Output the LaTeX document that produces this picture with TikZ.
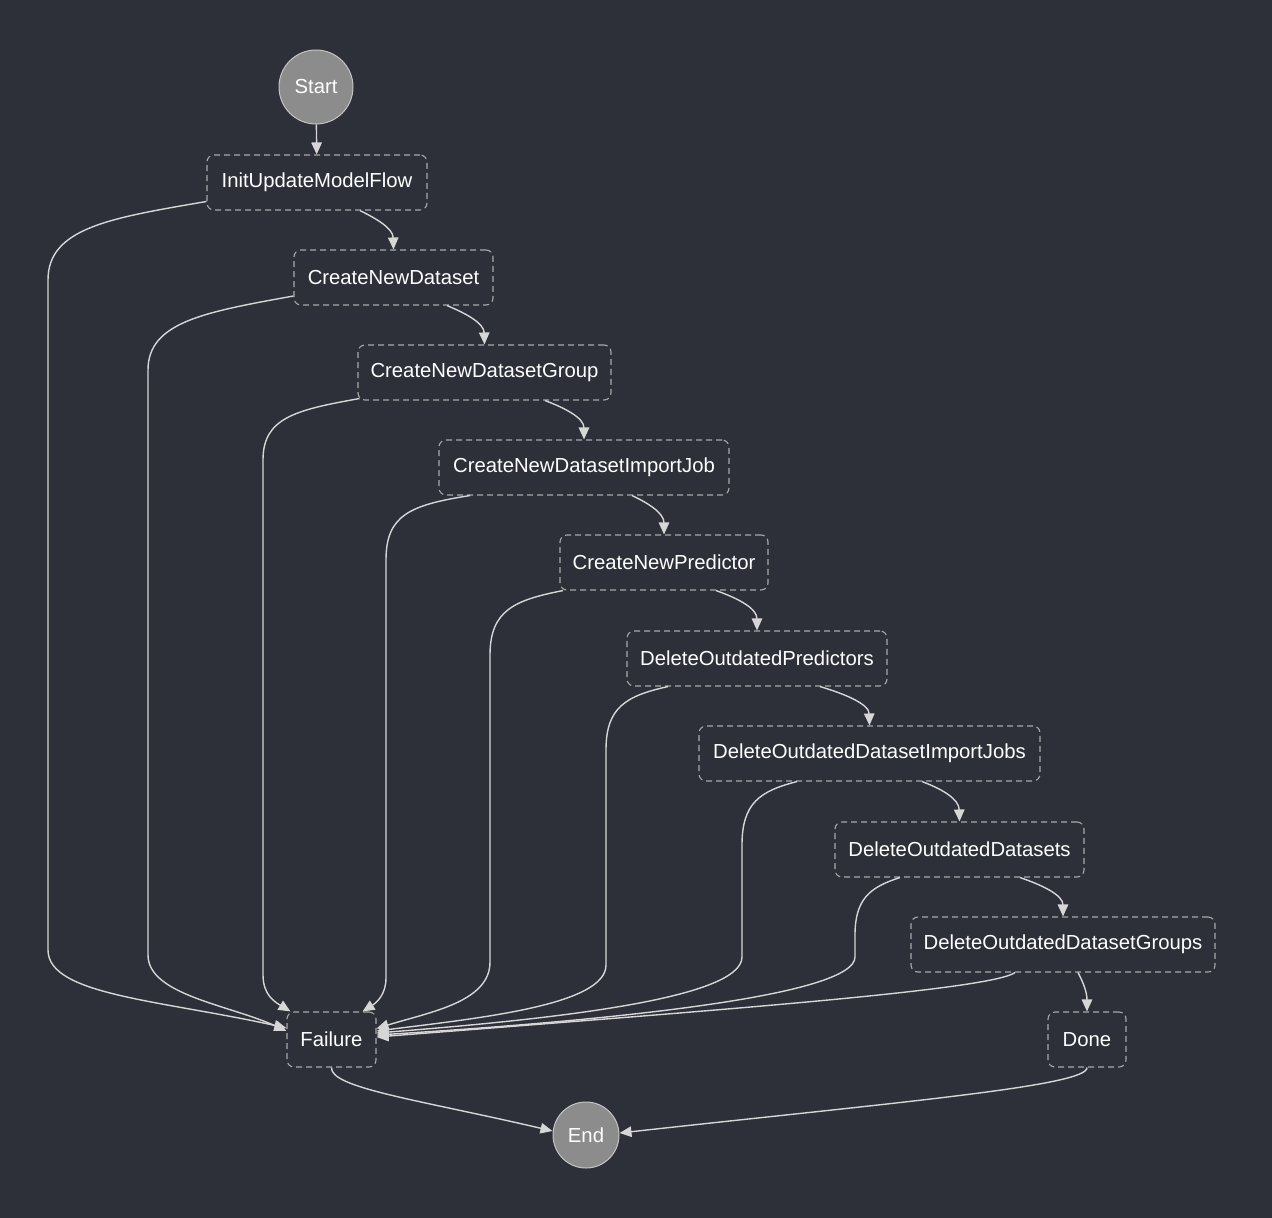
\documentclass[tikz,border=0pt]{standalone}
\usepackage{fontspec}
\setmainfont{Liberation Sans}
\usetikzlibrary{arrows.meta,calc}
\definecolor{bg}{HTML}{2D3039}
\definecolor{wire}{HTML}{D6D6D6}
\definecolor{frame}{HTML}{A8A8A8}
\definecolor{disc}{HTML}{8C8C8C}
\definecolor{discrim}{HTML}{C4C4C4}
\begin{document}
\begin{tikzpicture}[x=1pt,y=-1pt,
  state/.style={draw=frame,dash pattern=on 6pt off 4pt,line width=1.1pt,rounded corners=7pt,
    minimum height=55pt,text=white,font=\fontsize{20.3}{23}\selectfont,inner sep=0pt},
  terminal/.style={circle,fill=disc,draw=discrim,line width=1pt,text=white,
    font=\fontsize{20.3}{23}\selectfont,inner sep=0pt},
  edge/.style={draw=wire,line width=1.4pt,-{Triangle[length=12pt,width=10.5pt]}}]
\fill[bg] (0,0) rectangle (1272,1218);

% states
\node[terminal,minimum size=74pt] (start) at (316,87) {Start};
\node[state,minimum width=220pt] (init) at (317,182.5) {InitUpdateModelFlow};
\node[state,minimum width=199pt] (ds) at (393.5,277.5) {CreateNewDataset};
\node[state,minimum width=253pt] (grp) at (484.5,372.5) {CreateNewDatasetGroup};
\node[state,minimum width=290pt] (imp) at (584,467.5) {CreateNewDatasetImportJob};
\node[state,minimum width=208pt] (pred) at (664,562.5) {CreateNewPredictor};
\node[state,minimum width=260pt] (dp) at (757,658.5) {DeleteOutdatedPredictors};
\node[state,minimum width=341pt] (dij) at (869.5,753.5) {DeleteOutdatedDatasetImportJobs};
\node[state,minimum width=249pt] (dd) at (959.5,849.5) {DeleteOutdatedDatasets};
\node[state,minimum width=304pt] (dg) at (1063,944.5) {DeleteOutdatedDatasetGroups};
\node[state,minimum width=89pt] (fail) at (331.5,1039.5) {Failure};
\node[state,minimum width=78pt] (done) at (1087,1039.5) {Done};
\node[terminal,minimum size=66pt] (end) at (586,1135) {End};

% main chain
\draw[edge] (start) -- (init);
\draw[edge] ($(init.south)+(43,0)$) .. controls (375,218) and (393,228) .. (ds.north);
\draw[edge] ($(ds.south)+(53.5,0)$) .. controls (465,313) and (484,323) .. (grp.north);
\draw[edge] ($(grp.south)+(60.5,0)$) .. controls (565,408) and (584,418) .. (imp.north);
\draw[edge] ($(imp.south)+(48,0)$) .. controls (648,503) and (664,513) .. (pred.north);
\draw[edge] ($(pred.south)+(52,0)$) .. controls (737,598) and (757,608) .. (dp.north);
\draw[edge] ($(dp.south)+(63,0)$) .. controls (845,694) and (869,704) .. (dij.north);
\draw[edge] ($(dij.south)+(52.5,0)$) .. controls (942,789) and (959,799) .. (dd.north);
\draw[edge] ($(dd.south)+(60.5,0)$) .. controls (1042,885) and (1063,895) .. (dg.north);
\draw[edge] ($(dg.south)+(15,0)$) .. controls (1083,982) and (1087,992) .. (done.north);

% failure branches
\draw[edge] ($(init.west)+(0,19)$) .. controls (110,218) and (48,228) .. (48,280)
  -- (48,950) .. controls (48,995) and (160,1000) .. ($(fail.west)+(0,-11.5)$);
\draw[edge] ($(ds.west)+(0,18.5)$) .. controls (205,312) and (148,322) .. (148,370)
  -- (148,955) .. controls (148,995) and (230,1005) .. ($(fail.west)+(0,-8.5)$);
\draw[edge] ($(grp.south west)+(2,-2)$) .. controls (295,410) and (263,418) .. (263,460)
  -- (263,975) .. controls (263,995) and (275,1002) .. ($(fail.north west)+(4,0)$);
\draw[edge] ($(imp.south)+(-114,0)$) .. controls (410,505) and (386,515) .. (386,560)
  -- (386,978) .. controls (386,995) and (376,1003) .. ($(fail.north east)+(-14,0)$);
\draw[edge] ($(pred.south)+(-101,0)$) .. controls (515,600) and (490,610) .. (490,655)
  -- (490,962) .. controls (490,1002) and (430,1012) .. ($(fail.east)+(0,-11)$);
\draw[edge] ($(dp.south)+(-89,0)$) .. controls (625,696) and (606,708) .. (606,750)
  -- (606,965) .. controls (606,1005) and (480,1018) .. ($(fail.east)+(0,-8.5)$);
\draw[edge] ($(dij.south)+(-72.5,0)$) .. controls (760,791) and (742,803) .. (742,845)
  -- (742,957) .. controls (742,1000) and (540,1020) .. ($(fail.east)+(0,-6.5)$);
\draw[edge] ($(dd.south)+(-59.5,0)$) .. controls (870,887) and (855,899) .. (855,935)
  -- (855,957) .. controls (855,995) and (620,1020) .. ($(fail.east)+(0,-4.5)$);
\draw[edge] ($(dg.south)+(-48,0)$) .. controls (990,990) and (720,1010) .. ($(fail.east)+(0,-2.5)$);

% terminal transitions
\draw[edge] (fail.south) .. controls (330,1088) and (420,1100) .. ($(end.west)+(0,-4)$);
\draw[edge] (done.south) .. controls (1088,1086) and (900,1102) .. ($(end.east)+(0,-2)$);
\end{tikzpicture}
\end{document}
